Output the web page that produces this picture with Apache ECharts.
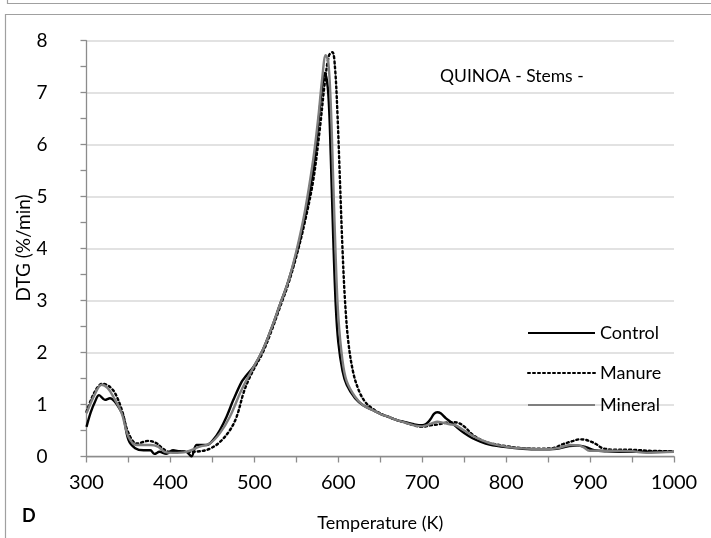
<!DOCTYPE html>
<html><head><meta charset="utf-8">
<script src="https://cdn.jsdelivr.net/npm/echarts@6/dist/echarts.min.js"></script>
<style>html,body{margin:0;padding:0;background:#fff}#c{width:711px;height:538px}</style>
</head><body><div id="c"></div>
<script>
var xTicks = [300, 400, 500, 600, 700, 800, 900, 1000];
var yTicks = [0, 1, 2, 3, 4, 5, 6, 7, 8];
var seriesNames = ['Control', 'Manure', 'Mineral'];

var controlT = [300,305,310,315,322,328,334,340,344,350,358,368,376,381,387,395,403,411,419,425,431,435,443,451,459,467,475,485,490,500,510,520,530,540,550,560,570,575,580,584,588,591,594,597,600,605,610,620,630,640,650,660,670,680,690,700,705,710,714,718,722,728,735,742,750,760,770,780,800,820,840,860,875,885,895,905,920,950,980,1000];
var controlV = [0.57,0.85,1.05,1.18,1.09,1.12,1.05,0.9,0.77,0.32,0.16,0.12,0.12,0.05,0.09,0.05,0.12,0.1,0.09,0.0,0.22,0.22,0.22,0.32,0.51,0.77,1.09,1.44,1.55,1.75,2.05,2.45,2.9,3.35,3.9,4.6,5.5,6.2,7.0,7.38,7.0,5.8,4.2,2.9,2.2,1.65,1.38,1.12,0.98,0.9,0.82,0.76,0.7,0.66,0.62,0.6,0.63,0.72,0.82,0.85,0.83,0.74,0.65,0.55,0.45,0.35,0.28,0.23,0.18,0.15,0.14,0.15,0.2,0.21,0.18,0.12,0.1,0.09,0.09,0.09];

var manureT = [300,310,319,327,334,342,350,360,374,384,391,399,419,435,447,459,471,479,487,493,500,510,520,530,540,550,560,570,578,584,589,593,596,599,602,605,608,612,618,625,632,640,650,660,670,680,690,700,710,720,728,736,744,752,760,770,780,800,820,840,855,868,880,887,895,902,907,915,930,947,970,1000];
var manureV = [0.86,1.25,1.4,1.35,1.22,0.9,0.45,0.25,0.3,0.25,0.15,0.09,0.09,0.1,0.15,0.28,0.51,0.77,1.22,1.47,1.7,2.0,2.4,2.85,3.3,3.85,4.5,5.3,6.3,7.2,7.72,7.78,7.5,6.6,5.3,4.0,3.0,2.2,1.6,1.25,1.05,0.93,0.83,0.76,0.7,0.65,0.6,0.57,0.6,0.62,0.65,0.66,0.64,0.55,0.42,0.32,0.26,0.2,0.16,0.15,0.16,0.24,0.3,0.33,0.32,0.28,0.24,0.16,0.13,0.13,0.11,0.1];

var mineralT = [300,310,318,325,332,342,350,360,376,385,393,403,419,435,447,459,471,483,490,500,510,520,530,540,550,560,570,576,581,585,588,591,594,597,600,605,610,620,630,640,650,660,670,680,690,700,705,712,718,725,733,740,748,755,762,770,780,790,808,830,848,862,876,887,893,899,910,927,950,967,985,1000];
var mineralV = [0.83,1.2,1.38,1.32,1.15,0.83,0.38,0.22,0.22,0.19,0.09,0.07,0.09,0.19,0.25,0.45,0.77,1.22,1.45,1.75,2.05,2.45,2.9,3.35,3.95,4.7,5.7,6.5,7.3,7.72,7.6,6.8,5.3,3.8,2.7,1.85,1.45,1.15,0.98,0.9,0.82,0.76,0.7,0.65,0.6,0.58,0.6,0.64,0.67,0.65,0.62,0.6,0.52,0.45,0.38,0.32,0.26,0.22,0.17,0.15,0.14,0.16,0.22,0.21,0.17,0.11,0.11,0.11,0.1,0.07,0.08,0.09];

function pairs(t, v) { return t.map(function (x, i) { return [x, v[i]]; }); }

var FONT = 'Lato';
var chart = echarts.init(document.getElementById('c'), null, {renderer: 'canvas'});
var legendBase = {
  orient: 'vertical', itemWidth: 67, itemHeight: 14, itemGap: 10,
  textStyle: {fontFamily: FONT, fontSize: 18, color: '#000', padding: [0, 0, 0, 0]},
  itemStyle: {opacity: 0, borderWidth: 0}
};
chart.setOption({
  animation: false,
  backgroundColor: '#fff',
  grid: {left: 86.5, right: 37, top: 40.7, bottom: 81.5, containLabel: false},
  xAxis: {
    type: 'value', min: xTicks[0], max: xTicks[xTicks.length - 1], interval: 100,
    name: 'Temperature (K)', nameLocation: 'middle', nameGap: 58, nameMoveOverlap: false,
    nameTextStyle: {fontFamily: FONT, fontSize: 18, color: '#000'},
    axisLine: {show: true, onZero: false, lineStyle: {color: '#8c8c8c', width: 1.3}},
    axisTick: {show: true, inside: false, length: 6, lineStyle: {color: '#8c8c8c', width: 1.3}},
    minorTick: {show: true, splitNumber: 2, length: 6, lineStyle: {color: '#8c8c8c', width: 1.3}},
    axisLabel: {fontFamily: FONT, fontSize: 20, color: '#000', margin: 16, formatter: function (v) { return String(v); }},
    splitLine: {show: false}
  },
  yAxis: {
    type: 'value', min: yTicks[0], max: yTicks[yTicks.length - 1], interval: 1,
    axisLine: {show: true, lineStyle: {color: '#8c8c8c', width: 1.3}},
    axisTick: {show: true, inside: false, length: 6, lineStyle: {color: '#8c8c8c', width: 1.3}},
    minorTick: {show: true, splitNumber: 2, length: 6, lineStyle: {color: '#8c8c8c', width: 1.3}},
    axisLabel: {fontFamily: FONT, fontSize: 19, color: '#000', margin: 39},
    splitLine: {show: true, lineStyle: {color: '#d9d9d9', width: 1.5}}
  },
  legend: [
    Object.assign({}, legendBase, {data: [seriesNames[0]], left: 522, top: 319}),
    Object.assign({}, legendBase, {data: [seriesNames[1]], left: 522, top: 359}),
    Object.assign({}, legendBase, {data: [seriesNames[2]], left: 522, top: 391})
  ],
  graphic: [
    {type: 'rect', shape: {x: 5.5, y: 14.5, width: 720, height: 540}, style: {fill: 'none', stroke: '#a0a0a0', lineWidth: 1.2}, silent: true},
    {type: 'polyline', shape: {points: [[7.5, 0], [7.5, 3.5], [720, 3.5]]}, style: {fill: 'none', stroke: '#a0a0a0', lineWidth: 1.2}, silent: true},
    {type: 'text', x: 24, y: 248, rotation: Math.PI / 2,
     style: {text: 'DTG (%/min)', fontFamily: FONT, fontSize: 19, fill: '#000', align: 'center', verticalAlign: 'middle'}},
    {type: 'text', left: 440, top: 67, style: {text: 'QUINOA - Stems -', fontFamily: FONT, fontSize: 17.5, fill: '#000'}},
    {type: 'text', left: 22, top: 507, style: {text: 'D', fontFamily: FONT, fontSize: 18, fontWeight: 'bold', fill: '#000'}}
  ],
  series: [
    {name: seriesNames[0], type: 'line', data: pairs(controlT, controlV), showSymbol: false, symbol: 'none', smooth: 0.35,
     lineStyle: {color: '#000', width: 2.4}, itemStyle: {color: '#000'}, z: 3},
    {name: seriesNames[1], type: 'line', data: pairs(manureT, manureV), showSymbol: false, symbol: 'none', smooth: 0.35,
     lineStyle: {color: '#000', width: 2.4, type: [2, 3], cap: 'round'}, itemStyle: {color: '#000'}, z: 2},
    {name: seriesNames[2], type: 'line', data: pairs(mineralT, mineralV), showSymbol: false, symbol: 'none', smooth: 0.35,
     lineStyle: {color: '#7f7f7f', width: 2.4}, itemStyle: {color: '#7f7f7f'}, z: 4}
  ]
});
</script></body></html>
